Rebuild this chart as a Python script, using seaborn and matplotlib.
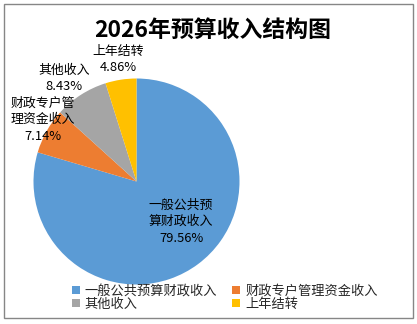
import matplotlib
matplotlib.use("Agg")
import matplotlib.pyplot as plt
from matplotlib.patches import Rectangle, Patch
import seaborn as sns

# Revenue structure (%), in drawing order starting at 12 o'clock, clockwise
categories = ["一般公共预算财政收入", "财政专户管理资金收入", "其他收入", "上年结转"]
shares = [79.56, 7.14, 8.43, 4.86]
slice_labels = ["一般公共预\n算财政收入", "财政专户管\n理资金收入", "其他收入", "上年结转"]
title = "2026年预算收入结构图"

sns.set_theme(style="white")
plt.rcParams["font.family"] = ["Noto Sans CJK SC", "DejaVu Sans"]

colors = ["#5B9BD5", "#ED7D31", "#A5A5A5", "#FFC000"]

W, H = 417, 324
fig = plt.figure(figsize=(W / 100, H / 100), dpi=100)

# pie placement in pixels: centre and radius
cx, cy, r = 136.5, 181.5, 103.0
ax = fig.add_axes([(cx - r) / W, (H - cy - r) / H, 2 * r / W, 2 * r / H])
ax.pie(shares, colors=colors, startangle=90, counterclock=False,
       radius=1.0, wedgeprops=dict(linewidth=0))
ax.set_xlim(-1, 1)
ax.set_ylim(-1, 1)
ax.set_aspect("auto")
ax.axis("off")

def px(x, y):
    return (x - cx) / r, (cy - y) / r

# slice labels: (text centre x, y of first line) in pixels
label_pos = [(181, 205), (43, 103), (64, 70), (118, 51)]
for lab, val, (lx, ly) in zip(slice_labels, shares, label_pos):
    lines = lab.split("\n") + [f"{val:.2f}%"]
    for i, line in enumerate(lines):
        x, y = px(lx, ly + 16.5 * i)
        ax.text(x, y, line, ha="center", va="center", fontsize=9.3,
                color="#000000", clip_on=False)

fig.text(213 / W, 1 - 30 / H, title, ha="center", va="center",
         fontsize=16.5, fontweight="bold", color="#000000")

# legend laid out row by row: legend fills columns first, so reorder
order = [0, 2, 1, 3]
handles = [Patch(facecolor=colors[i], edgecolor="none") for i in order]
labels = [categories[i] for i in order]
leg = fig.legend(handles, labels, ncol=2, loc="upper left",
                 bbox_to_anchor=(65 / W, 1 - 278 / H), frameon=False,
                 fontsize=9.5, handlelength=0.6, handleheight=0.6,
                 handletextpad=0.4, columnspacing=1.15, labelspacing=0.0,
                 borderpad=0.0)

# outer chart frame
fig.patches.append(Rectangle((3.5 / W, 1 - 317.5 / H), 409 / W, 313.5 / H,
                             transform=fig.transFigure, fill=False,
                             edgecolor="#868686", linewidth=1.0))

fig.savefig("out.png", dpi=100)
